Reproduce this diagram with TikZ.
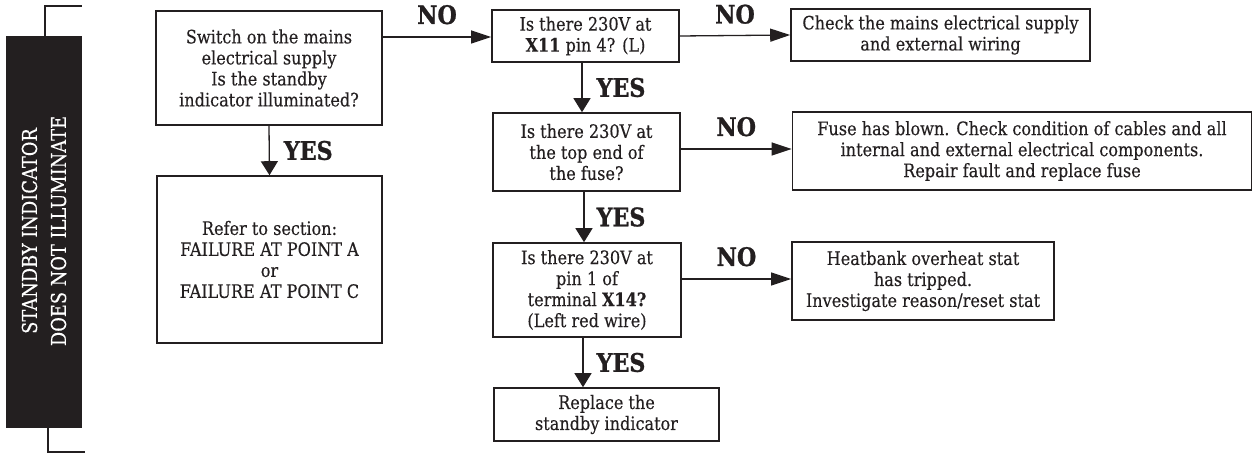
\documentclass[tikz,border=0pt]{standalone}
\usepackage{fontspec}
\setmainfont[FakeStretch=0.87,FakeBold=0.3]{DejaVu Serif}
\newfontfamily\labfont[FakeStretch=0.87,FakeBold=1]{DejaVu Serif}
\usetikzlibrary{arrows.meta}
\definecolor{ink}{HTML}{231F20}
\begin{document}
\begin{tikzpicture}[x=1pt,y=-1pt,
  box/.style={draw=ink, line width=1.6pt, text=ink, align=center, inner sep=0pt,
    font=\fontsize{18.5}{21}\selectfont},
  harr/.style={draw=ink, line width=1.3pt, -{Triangle[length=20pt,width=13pt]}},
  varr/.style={draw=ink, line width=1.3pt, -{Triangle[length=14pt,width=17pt]}},
  lab/.style={text=ink, font=\fontsize{25.5}{30}\labfont\bfseries, inner sep=0pt},
  brk/.style={draw=ink, line width=1.3pt}
]
\useasboundingbox (0,0) rectangle (1254,454);
% side banner
\node[fill=ink, minimum width=76pt, minimum height=392pt, inner sep=0pt] (ban) at (44,232) {};
\node[text=white, rotate=90, align=center, font=\fontsize{20.5}{29}\selectfont] (bantxt) at (44,231)
  {STANDBY INDICATOR\\DOES NOT ILLUMINATE};
\coordinate (bt) at (45,6);
\coordinate (bte) at (82,6);
\coordinate (bb) at (48,452);
\coordinate (bbe) at (85,452);
\draw[brk] (ban.north -| bt) -- (bt) -- (bte);
\draw[brk] (ban.south -| bb) -- (bb) -- (bbe);
% boxes
\node[box, minimum width=226pt, minimum height=114pt] (S) at (269,68)
  {Switch on the mains\\electrical supply\\Is the standby\\indicator illuminated?};
\node[box, minimum width=225pt, minimum height=167pt] (R) at (269.5,259.5)
  {Refer to section:\\FAILURE AT POINT A\\or\\FAILURE AT POINT C};
\node[box, minimum width=187pt, minimum height=52pt] (A) at (585.5,36)
  {Is there 230V at\\{\bfseries X11} pin 4? (L)};
\node[box, minimum width=187pt, minimum height=78pt] (B) at (586.5,152)
  {Is there 230V at\\the top end of\\the fuse?};
\node[box, minimum width=188pt, minimum height=94pt] (C) at (587,290)
  {Is there 230V at\\pin 1 of\\terminal {\bfseries X14?}\\(Left red wire)};
\node[box, minimum width=225pt, minimum height=53pt] (D) at (606.5,414.5)
  {Replace the\\standby indicator};
\node[box, minimum width=299pt, minimum height=52pt] (E) at (940.5,35)
  {Check the mains electrical supply\\and external wiring};
\node[box, minimum width=459pt, minimum height=78pt] (F) at (1022,151)
  {Fuse has blown. Check condition of cables and all\\internal and external electrical components.\\Repair fault and replace fuse};
\node[box, minimum width=262pt, minimum height=78pt] (G) at (923,281)
  {Heatbank overheat stat\\has tripped.\\Investigate reason/reset stat};
% connectors
\coordinate (sy) at (0,37);
\draw[harr] (S.east |- sy) -- node[lab, midway, above=12pt] {NO} (A.west |- sy);
\draw[varr] (S.south) -- node[lab, midway, right=14pt] {YES} (R.north);
\draw[harr] (A.east) -- node[lab, midway, above=11pt] {NO} (E.west);
\coordinate (ax) at (582,0);
\draw[varr] (A.south -| ax) -- node[lab, midway, right=14pt] {YES} (B.north -| ax);
\coordinate (bx) at (584,0);
\draw[varr] (B.south -| bx) -- node[lab, midway, right=12pt] {YES} (C.north -| bx);
\coordinate (cx) at (583,0);
\draw[varr] (C.south -| cx) -- node[lab, midway, right=13pt] {YES} (D.north -| cx);
\coordinate (by) at (0,149);
\draw[harr] (B.east |- by) -- node[lab, midway, above=12pt] {NO} (F.west |- by);
\coordinate (cy) at (0,279);
\draw[harr] (C.east |- cy) -- node[lab, midway, above=12pt] {NO} (G.west |- cy);
\end{tikzpicture}
\end{document}
